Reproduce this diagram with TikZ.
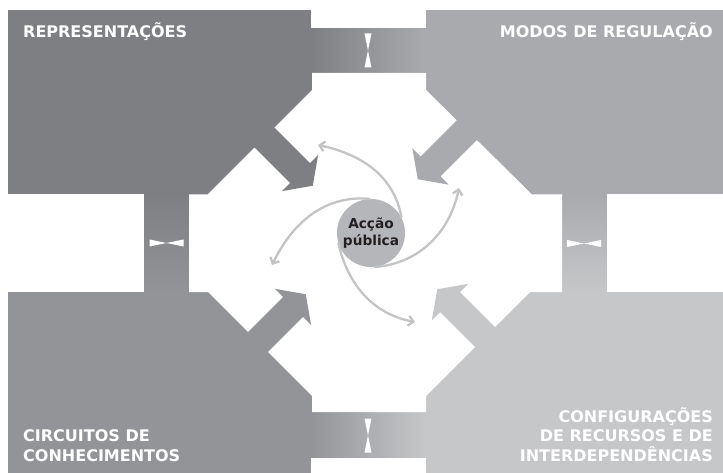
\documentclass[tikz,border=0pt]{standalone}
\usepackage{fontspec}
\setmainfont{DejaVu Sans}
\usetikzlibrary{arrows.meta}

\definecolor{quadTL}{HTML}{7E7F83}
\definecolor{quadTR}{HTML}{A9AAAE}
\definecolor{quadBL}{HTML}{939498}
\definecolor{quadBR}{HTML}{C6C7C9}
\definecolor{hubgray}{HTML}{B5B6B9}
\definecolor{swirlgray}{HTML}{C3C4C6}
\definecolor{hubtext}{HTML}{231F20}

\tikzset{
  quadtext/.style={text=white, inner sep=0pt, font=\bfseries\fontsize{16}{19.5}\selectfont},
  hub/.style={circle, fill=hubgray, minimum size=68pt, inner sep=0pt, align=center,
              text=hubtext, font=\bfseries\fontsize{13.7}{17}\selectfont},
  swirl/.style={draw=swirlgray, line width=2.3pt, -{Straight Barb[length=5pt,width=10pt]}},
}

\begin{document}
\begin{tikzpicture}[x=1pt,y=-1pt]

  \useasboundingbox (0,0) rectangle (723,473);

  %quadrants
  \def\mx{369};
  \def\my{243};
    \foreach \xa/\ya/\xb/\yb/\col in {8/10/\mx/\my/quadTL, \mx/10/723/\my/quadTR, 8/\my/\mx/473/quadBL, \mx/\my/723/473/quadBR}{
        \fill[\col] (\xa,\ya) rectangle (\xb,\yb);
    }

  %bands between the quadrants
  \shade[left color=quadTL, right color=quadTR] (311,28) rectangle (426,73);
  \shade[left color=quadBL, right color=quadBR] (311,412) rectangle (426,458);
  \shade[top color=quadTL, bottom color=quadBL] (144,194.5) rectangle (189.5,292);
  \shade[top color=quadTR, bottom color=quadBR] (561.5,194.5) rectangle (607,292);

  %white notches
    \foreach \xa/\ya/\xb/\yb in {311/0/426/28, 311/458/426/473, 0/194.5/144/292, 607/194.5/723/292}{
        \fill[white] (\xa,\ya) rectangle (\xb,\yb);
    }

  %centre
  \fill[white] (312,73) -- (426,73) -- (426,90) -- (532,194.5) -- (562,194.5) -- (562,292)
         -- (530,292) -- (426,396) -- (426,412) -- (312,412) -- (312,396) -- (208,292)
         -- (189,292) -- (189,194.5) -- (207.5,194.5) -- (312,90) -- cycle;

  %big arrows
  \def\sw{14};
  \def\hw{25.7};
  \def\hl{18};
    \foreach \x/\y/\ang/\col in {300/173/-45/quadTL, 430.5/166.5/-135/quadTR, 293/307/45/quadBL, 450/302/135/quadBR}{
        \fill[\col, shift={(\x,\y)}, rotate=\ang] (-80,\sw) -- (0,\sw) -- (0,\hw) -- (\hl,0)
             -- (0,-\hw) -- (0,-\sw) -- (-80,-\sw) -- cycle;
    }

  %hourglasses
    \foreach \x/\y/\ang in {368/50.5/0, 368/435.5/0, 166.5/243/90, 584/243.5/90}{
        \fill[white, shift={(\x,\y)}, rotate=\ang] (-3.5,-17) -- (3.5,-17) -- (0,0) -- cycle
             (-3.5,17) -- (3.5,17) -- (0,0) -- cycle;
    }

  %hub and swirl
  \node[hub] (hub) at (371,233) {Acção\\pública};

  \coordinate (tipNW) at (318,145);
  \coordinate (tipSW) at (272,265);
  \coordinate (tipSE) at (415,322);
  \coordinate (tipNE) at (459,188);

  \draw[swirl] (hub.27) to[out=100, in=-12] (tipNW);
  \draw[swirl] (hub.92) to[out=175, in=64] (tipSW);
  \draw[swirl] (hub.197) to[out=283, in=169] (tipSE);
  \draw[swirl] (hub.275) to[out=4, in=258] (tipNE);

  %labels
  \node[quadtext, anchor=base west] (repr) at (23,38) {REPRESENTAÇÕES};
  \node[quadtext, anchor=base east] (modos) at (713,38) {MODOS DE REGULAÇÃO};
  \node[quadtext, anchor=base west, align=left] (circ) at (23,461) {CIRCUITOS DE\\CONHECIMENTOS};
  \node[quadtext, anchor=base east, align=right] (conf) at (713,461) {CONFIGURAÇÕES\\DE RECURSOS E DE\\INTERDEPENDÊNCIAS};

\end{tikzpicture}
\end{document}
